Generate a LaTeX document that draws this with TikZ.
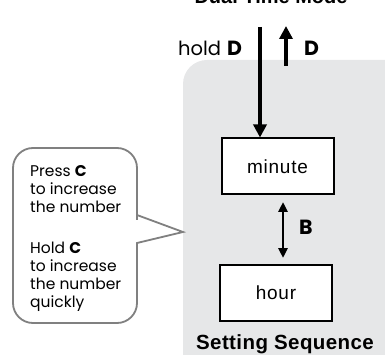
\documentclass[tikz,border=0pt]{standalone}
\usepackage{fontspec}
\setmainfont{Liberation Sans}
\newfontfamily\geo{Poppins}
\usetikzlibrary{arrows.meta}
\definecolor{bggray}{HTML}{E6E7E8}
\definecolor{callgray}{HTML}{808080}
\tikzset{
  statebox/.style={draw=black, line width=2pt, fill=white, minimum width=112pt, minimum height=56pt, inner sep=0pt, font=\fontsize{19}{19}\selectfont\addfontfeature{LetterSpace=4}},
  bigarrow/.style={line width=4.8pt, -{Triangle[width=13pt,length=13pt]}},
  dblarrow/.style={line width=2.6pt, {Triangle[width=9pt,length=10pt]}-{Triangle[width=9pt,length=10pt]}},
  keylbl/.style={font=\geo\fontsize{20.5}{20.5}\selectfont\bfseries, inner sep=0pt, anchor=base west},
  calltext/.style={font=\geo\fontsize{15.5}{18}\selectfont, inner sep=0pt, anchor=base west, align=left},
}
\begin{document}
\begin{tikzpicture}[x=1pt,y=-1pt]
\useasboundingbox (0,0) rectangle (385,355);
% gray setting region
\fill[bggray, rounded corners=24pt] (183,60) rectangle (420,390);
% title (cut off at the top edge, as in the reference)
\node[font=\fontsize{20}{20}\selectfont\bfseries, inner sep=0pt, anchor=base] (title) at (271,4) {Dual Time Mode};
% boxes
\node[statebox] (minute) at (277.5,166.5) {minute};
\node[statebox] (hour) at (276,292.5) {hour};
% arrows
\coordinate (topA) at (260,27);
\coordinate (upS) at (286,66);
\coordinate (upE) at (286,26);
\coordinate (bT) at (283,202);
\coordinate (bB) at (283,258);
\draw[bigarrow] (topA) -- (topA |- minute.north);
\draw[bigarrow] (upS) -- (upE);
\draw[dblarrow] (bT) -- (bB);
% labels
\node[font=\geo\fontsize{19.5}{19.5}\selectfont, inner sep=0pt, anchor=base west] (hold) at (178,56) {hold};
\node[keylbl] (d1) at (227,56) {D};
\node[keylbl] (d2) at (304,56) {D};
\node[keylbl] (b) at (299,234) {B};
\node[font=\fontsize{20.5}{20.5}\selectfont\bfseries\addfontfeature{LetterSpace=2}, inner sep=0pt, anchor=base] (seq) at (285,349) {Setting Sequence};
% callout
\draw[callgray, line width=1.8pt, fill=white, line join=miter]
  (137,215) -- (183,232) -- (137,243) -- (137,250) [rounded corners=20pt]
  -- (137,323) -- (13,323) -- (13,148) -- (137,148) -- (137,200) [sharp corners] -- cycle;
\node[calltext] (t1) at (30,177) {Press \textbf{C}};
\node[calltext] (t2) at (30,195) {to increase};
\node[calltext] (t3) at (30,213) {the number};
\node[calltext] (t4) at (30,253) {Hold \textbf{C}};
\node[calltext] (t5) at (30,271) {to increase};
\node[calltext] (t6) at (30,289) {the number};
\node[calltext] (t7) at (30,307) {quickly};
\end{tikzpicture}
\end{document}
